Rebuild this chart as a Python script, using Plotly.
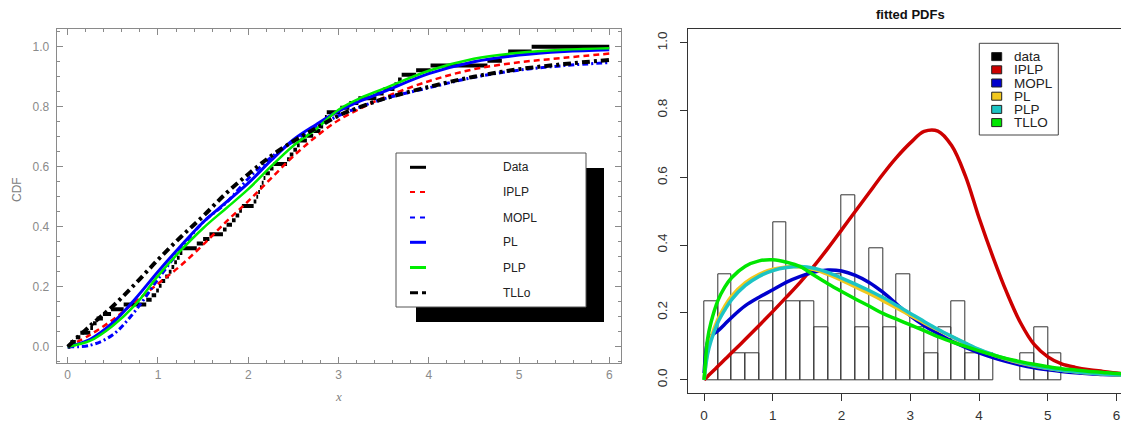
import numpy as np
import plotly.graph_objects as go

# page is rendered with the browser's default 8px body margin; work in window pixels and compensate
WIN_W, WIN_H = 1129, 423
OFF = 8
W, H = WIN_W - OFF, WIN_H - OFF

# ---------------- data (sample of 64 observations) ----------------
data = [0.03, 0.09, 0.14,
        0.25, 0.28, 0.32, 0.39,
        0.48,
        0.62,
        0.87, 0.93, 0.98,
        1.01, 1.04, 1.08, 1.12, 1.15, 1.18,
        1.21, 1.24, 1.27,
        1.43, 1.50, 1.57,
        1.72, 1.76,
        1.82, 1.86, 1.90, 1.93,
        2.06, 2.09, 2.11, 2.13, 2.15, 2.17, 2.19,
        2.24, 2.28,
        2.43, 2.46, 2.50, 2.54, 2.57,
        2.65, 2.72,
        2.80, 2.83, 2.85, 2.87,
        3.02, 3.12,
        3.22,
        3.42, 3.50,
        3.62, 3.66, 3.70,
        3.86,
        4.02,
        4.65,
        4.81, 4.88,
        5.14]

# ---------------- fitted CDFs (left panel) ----------------
cdf_x = [0, 0.25, 0.5, 0.75, 1.0, 1.25, 1.5, 1.75, 2.0, 2.25, 2.5, 2.75, 3.0, 3.25, 3.5, 4.0, 4.5, 5.0, 5.5, 6.0]
cdf_iplp = [0, 0.04, 0.09, 0.15, 0.21, 0.27, 0.34, 0.415, 0.485, 0.56, 0.635, 0.70, 0.755, 0.795, 0.83, 0.885, 0.925, 0.948, 0.963, 0.977]
cdf_mopl = [0, 0.005, 0.04, 0.12, 0.225, 0.325, 0.415, 0.478, 0.56, 0.63, 0.685, 0.73, 0.77, 0.80, 0.826, 0.863, 0.898, 0.922, 0.937, 0.947]
cdf_pl = [0, 0.025, 0.08, 0.16, 0.25, 0.335, 0.415, 0.48, 0.545, 0.62, 0.69, 0.74, 0.785, 0.82, 0.85, 0.91, 0.95, 0.972, 0.984, 0.99]
cdf_plp = [0, 0.02, 0.07, 0.14, 0.236, 0.32, 0.395, 0.46, 0.525, 0.60, 0.67, 0.725, 0.79, 0.83, 0.86, 0.92, 0.96, 0.98, 0.99, 0.995]
cdf_tllo = [0, 0.07, 0.135, 0.21, 0.29, 0.365, 0.435, 0.51, 0.575, 0.635, 0.685, 0.728, 0.77, 0.80, 0.826, 0.866, 0.90, 0.925, 0.942, 0.956]

# ---------------- fitted PDFs (right panel) ----------------
pdf_x = [0, 0.05, 0.1, 0.2, 0.3, 0.4, 0.6, 0.8, 1.0, 1.2, 1.4, 1.6, 1.8, 2.0, 2.2, 2.4, 2.6, 2.8,
         3.0, 3.2, 3.4, 3.6, 3.8, 4.0, 4.2, 4.4, 4.6, 4.8, 5.0, 5.2, 5.4, 5.6, 5.8, 6.0, 6.2]
pdf_iplp = [0, 0.01, 0.02, 0.04, 0.06, 0.08, 0.12, 0.161, 0.203, 0.246, 0.29, 0.338, 0.39, 0.445, 0.50, 0.555, 0.61, 0.66,
            0.703, 0.737, 0.738, 0.695, 0.605, 0.48, 0.365, 0.26, 0.17, 0.105, 0.068, 0.047, 0.037, 0.03, 0.025, 0.02, 0.017]
pdf_mopl = [0.02, 0.112, 0.13, 0.145, 0.165, 0.185, 0.22, 0.245, 0.267, 0.29, 0.307, 0.32, 0.326, 0.323, 0.31, 0.289, 0.26, 0.225,
            0.19, 0.161, 0.137, 0.115, 0.096, 0.08, 0.066, 0.054, 0.044, 0.036, 0.03, 0.025, 0.021, 0.018, 0.016, 0.014, 0.012]
pdf_pl = [0, 0.085, 0.125, 0.18, 0.218, 0.248, 0.288, 0.313, 0.328, 0.335, 0.335, 0.327, 0.313, 0.295, 0.276, 0.256, 0.235, 0.213,
          0.191, 0.169, 0.148, 0.128, 0.108, 0.089, 0.074, 0.061, 0.05, 0.041, 0.034, 0.028, 0.024, 0.02, 0.017, 0.015, 0.013]
pdf_plp = [0, 0.075, 0.115, 0.17, 0.207, 0.238, 0.28, 0.307, 0.324, 0.333, 0.336, 0.331, 0.319, 0.302, 0.284, 0.265, 0.244, 0.221,
           0.197, 0.173, 0.15, 0.129, 0.109, 0.09, 0.075, 0.062, 0.051, 0.042, 0.034, 0.028, 0.024, 0.02, 0.017, 0.015, 0.013]
pdf_tllo = [0, 0.12, 0.17, 0.235, 0.275, 0.303, 0.337, 0.353, 0.356, 0.349, 0.336, 0.31, 0.285, 0.262, 0.24, 0.219, 0.197, 0.18,
            0.163, 0.146, 0.128, 0.113, 0.099, 0.086, 0.074, 0.063, 0.054, 0.046, 0.039, 0.033, 0.029, 0.025, 0.022, 0.019, 0.017]

left_names = ["Data", "IPLP", "MOPL", "PL", "PLP", "TLLo"]
right_names = ["data", "IPLP", "MOPL", "PL", "PLP", "TLLO"]
x_ticks = [0, 1, 2, 3, 4, 5, 6]
y_ticks = [0.0, 0.2, 0.4, 0.6, 0.8, 1.0]

# ---------------- styles ----------------
L_COL = {"Data": "black", "IPLP": "#ff0000", "MOPL": "#0000ff", "PL": "#0000ff", "PLP": "#00ee00", "TLLo": "black"}
L_DASH = {"Data": "solid", "IPLP": "6px,4px", "MOPL": "6px,3px,2px,3px", "PL": "solid", "PLP": "solid", "TLLo": "8px,4px,3px,4px"}
L_W = {"Data": 4, "IPLP": 2.5, "MOPL": 3, "PL": 3, "PLP": 2.5, "TLLo": 4}
R_COL = {"data": "black", "IPLP": "#cd0000", "MOPL": "#0000cd", "PL": "#f2c81e", "PLP": "#1cc4c4", "TLLO": "#00e600"}


def pxx(X):
    return (X - OFF) / W


def pyy(Y):
    return 1 - (Y - OFF) / H


fig = go.Figure()

# ---- left: empirical CDF as horizontal steps ----
xs = np.sort(np.array(data))
n = len(xs)
sx, sy = [0.0, xs[0], None], [0.0, 0.0, None]
for i in range(n):
    x_end = xs[i + 1] if i + 1 < n else 6.0
    sx += [xs[i], x_end, None]
    sy += [(i + 1) / n, (i + 1) / n, None]
fig.add_trace(go.Scatter(x=sx, y=sy, mode="lines", xaxis="x", yaxis="y",
                         line=dict(color=L_COL["Data"], width=L_W["Data"]), connectgaps=False))

for nm, arr in [("IPLP", cdf_iplp), ("MOPL", cdf_mopl), ("PL", cdf_pl), ("PLP", cdf_plp), ("TLLo", cdf_tllo)]:
    fig.add_trace(go.Scatter(x=cdf_x, y=arr, mode="lines", xaxis="x", yaxis="y",
                             line=dict(color=L_COL[nm], width=L_W[nm], dash=L_DASH[nm], shape="spline")))

# ---- right: histogram + PDFs ----
fig.add_trace(go.Histogram(x=data, xaxis="x2", yaxis="y2", histnorm="probability density",
                           xbins=dict(start=0, end=5.2, size=0.2), autobinx=False,
                           marker=dict(color="rgba(255,255,255,0)", line=dict(color="#333333", width=1))))
for nm, arr in [("IPLP", pdf_iplp), ("MOPL", pdf_mopl), ("PL", pdf_pl), ("PLP", pdf_plp), ("TLLO", pdf_tllo)]:
    fig.add_trace(go.Scatter(x=pdf_x, y=arr, mode="lines", xaxis="x2", yaxis="y2",
                             line=dict(color=R_COL[nm], width=3.5, shape="spline")))

shapes = []
annotations = []

# ---- left legend (shadow + box) ----
shapes.append(dict(type="rect", xref="paper", yref="paper", x0=pxx(416), x1=pxx(604), y0=pyy(322), y1=pyy(168),
                   fillcolor="black", line=dict(width=0), layer="above"))
shapes.append(dict(type="rect", xref="paper", yref="paper", x0=pxx(396), x1=pxx(586), y0=pyy(307), y1=pyy(153),
                   fillcolor="white", line=dict(color="#555555", width=1), layer="above"))
rows = [167.3, 192.0, 217.5, 242.3, 267.5, 292.7]
leg_dash = {"Data": "solid", "IPLP": "5px,5px", "MOPL": "5px,5px", "PL": "solid", "PLP": "solid", "TLLo": "8px,4px"}
for nm, yr in zip(left_names, rows):
    shapes.append(dict(type="line", xref="paper", yref="paper", x0=pxx(410), x1=pxx(426), y0=pyy(yr), y1=pyy(yr),
                       line=dict(color=L_COL[nm], width=3 if nm not in ("IPLP", "MOPL") else 2, dash=leg_dash[nm]),
                       layer="above"))
    annotations.append(dict(xref="paper", yref="paper", x=pxx(501), y=pyy(yr), text=nm, showarrow=False,
                            xanchor="left", yanchor="middle", font=dict(family="Liberation Sans", size=12, color="#222222")))

# ---- right legend ----
shapes.append(dict(type="rect", xref="paper", yref="paper", x0=pxx(979.3), x1=pxx(1058.3), y0=pyy(135), y1=pyy(43.3),
                   fillcolor="white", line=dict(color="#444444", width=1), layer="above"))
for i, nm in enumerate(right_names):
    yc = 56.6 + 13.2 * i
    shapes.append(dict(type="rect", xref="paper", yref="paper", x0=pxx(991.7), x1=pxx(1001.7), y0=pyy(yc + 4), y1=pyy(yc - 4),
                       fillcolor=R_COL[nm], line=dict(color="#222222", width=1), layer="above"))
    annotations.append(dict(xref="paper", yref="paper", x=pxx(1012), y=pyy(yc), text=nm, showarrow=False,
                            xanchor="left", yanchor="middle", font=dict(family="Liberation Sans", size=13.5, color="#222222")))

# ---- axis labels / title ----
annotations.append(dict(xref="paper", yref="paper", x=pxx(17), y=pyy(190), text="CDF", showarrow=False, textangle=-90,
                        xanchor="center", yanchor="middle", font=dict(family="Liberation Sans", size=12, color="#808080")))
annotations.append(dict(xref="paper", yref="paper", x=pxx(338), y=pyy(396), text="<i>x</i>", showarrow=False,
                        xanchor="center", yanchor="middle", font=dict(family="Liberation Serif", size=13, color="#808080")))
annotations.append(dict(xref="paper", yref="paper", x=pxx(910), y=pyy(15), text="<b>fitted PDFs</b>", showarrow=False,
                        xanchor="center", yanchor="middle", font=dict(family="Liberation Sans", size=13, color="#111111")))

grey = "#8a8a8a"
fig.update_layout(
    width=W, height=H, autosize=False, margin=dict(l=0, r=0, t=0, b=0),
    paper_bgcolor="white", plot_bgcolor="white", showlegend=False, bargap=0,
    shapes=shapes, annotations=annotations,
    xaxis=dict(domain=[pxx(56.7), pxx(621)], range=[-0.122, 6.13], anchor="y",
               tickvals=x_ticks, ticks="inside", ticklen=6, tickcolor=grey, showline=True, linecolor=grey,
               mirror="ticks", showgrid=False, zeroline=False,
               tickfont=dict(family="Liberation Sans", size=12, color=grey),
               minor=dict(dtick=0.2, tick0=0, ticks="inside", ticklen=3, tickcolor=grey, showgrid=False)),
    yaxis=dict(domain=[pyy(363.3), pyy(28.7)], range=[-0.0553, 1.06], anchor="x",
               tickvals=y_ticks, tickformat=".1f", ticks="inside", ticklen=6, tickcolor=grey, showline=True,
               linecolor=grey, mirror="ticks", showgrid=False, zeroline=False, ticklabelstandoff=4,
               tickfont=dict(family="Liberation Sans", size=12, color=grey),
               minor=dict(dtick=0.05, tick0=0, ticks="inside", ticklen=3, tickcolor=grey, showgrid=False)),
    xaxis2=dict(domain=[pxx(688.3), 1.0], range=[-0.23, 6.18], anchor="y2",
                tickvals=x_ticks, ticks="outside", ticklen=7, tickcolor="#333333", showline=True, linecolor="#333333",
                mirror=True, showgrid=False, zeroline=False, ticklabelstandoff=2,
                tickfont=dict(family="Liberation Sans", size=13.5, color="#333333")),
    yaxis2=dict(domain=[pyy(393.3), pyy(29.3)], range=[-0.04, 1.04], anchor="x2",
                tickvals=y_ticks, tickformat=".1f", ticks="outside", ticklen=7, tickcolor="#333333", showline=True,
                linecolor="#333333", showgrid=False, zeroline=False, tickangle=-90, ticklabelstandoff=8,
                tickfont=dict(family="Liberation Sans", size=13.5, color="#333333")),
)

fig.write_html("out.html")
